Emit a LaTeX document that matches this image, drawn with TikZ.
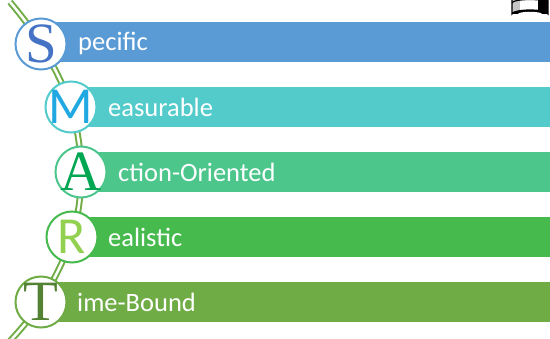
\documentclass[tikz,border=0pt]{standalone}
\usepackage{fontspec}
\setmainfont{Carlito}
\newfontfamily\bigserif{Liberation Serif}
\definecolor{cSbar}{HTML}{5B9BD5}
\definecolor{cMbar}{HTML}{53CBCB}
\definecolor{cAbar}{HTML}{4DC68C}
\definecolor{cRbar}{HTML}{47BA4E}
\definecolor{cTbar}{HTML}{6FAC46}
\definecolor{cSlet}{HTML}{4472C4}
\definecolor{cMlet}{HTML}{1FA8E2}
\definecolor{cAlet}{HTML}{00A651}
\definecolor{cRlet}{HTML}{92D050}
\definecolor{cTlet}{HTML}{548235}
\definecolor{lineg}{HTML}{70AD47}
\tikzset{
  bar/.style={fill=#1, draw=none, minimum height=40pt, inner sep=0pt},
  ring/.style={circle, fill=white, draw=#1, line width=2pt, minimum size=51pt, inner sep=0pt},
  lbl/.style={text=white, font=\fontsize{26.5}{26.5}\selectfont, anchor=west, inner sep=0pt},
  serifletter/.style={font=\bigserif\fontsize{57}{57}\selectfont},
  sansletter/.style={font=\fontsize{52}{52}\selectfont},
}
\begin{document}
\begin{tikzpicture}[x=1pt,y=-1pt]
\useasboundingbox (0,0) rectangle (550,339);
\clip (0,0) rectangle (550,339);
% centres
\coordinate (cS) at (41,44);
\coordinate (cM) at (71,107);
\coordinate (cA) at (81,172);
\coordinate (cR) at (72,237);
\coordinate (cT) at (41,302);
\coordinate (top) at (10,2);
\coordinate (bot) at (10,341);
% bars
\fill[cSbar] (41,22.5) rectangle (550,62.5);
\fill[cMbar] (71,87.5) rectangle (550,127.5);
\fill[cAbar] (81,152) rectangle (550,192);
\fill[cRbar] (72,217) rectangle (550,257);
\fill[cTbar] (41,282) rectangle (550,322);
% spine
\draw[draw=lineg, double=white, double distance=2.5pt, line width=2pt]
  plot[smooth, tension=0.6] coordinates {(top) (cS) (cM) (cA) (cR) (cT) (bot)};
% rings
\node[ring=cSbar] (S) at (cS) {};
\node[ring=cMbar] (M) at (cM) {};
\node[ring=cAbar] (A) at (cA) {};
\node[ring=cRbar] (R) at (cR) {};
\node[ring=cTbar] (T) at (cT) {};
\node[serifletter, text=cSlet] (Sl) at (S) {S};
\node[sansletter, text=cMlet] (Ml) at (M) {M};
\node[serifletter, text=cAlet] (Al) at (A) {A};
\node[sansletter, text=cRlet] (Rl) at (R) {R};
\node[serifletter, text=cTlet] (Tl) at (T) {T};
% labels
\node[lbl] (St) at (78,43) {pecific};
\node[lbl] (Mt) at (108,107.5) {easurable};
\node[lbl] (At) at (118,172) {ction-Oriented};
\node[lbl] (Rt) at (108,237) {ealistic};
\node[lbl] (Tt) at (77,302) {ime-Bound};
% icon (partially visible)
\fill[gray!45] (512,-2) rectangle (520,14);
\fill[black] (538,-2) rectangle (548,14);
\fill[black] (512,14) arc[start angle=180, end angle=360, x radius=18, y radius=4] -- cycle;
\fill[white] (518,14) arc[start angle=180, end angle=360, x radius=12, y radius=2.2] -- cycle;
\draw[black, line width=1.2pt] (512,-2) -- (512,14) arc[start angle=180, end angle=360, x radius=18, y radius=4] -- (548,-2);
\draw[black, line width=1.2pt] (512,3) arc[start angle=180, end angle=360, x radius=18, y radius=3.5];
\draw[black, line width=1pt] (512,-1) arc[start angle=180, end angle=360, x radius=18, y radius=3.5];
\end{tikzpicture}
\end{document}
